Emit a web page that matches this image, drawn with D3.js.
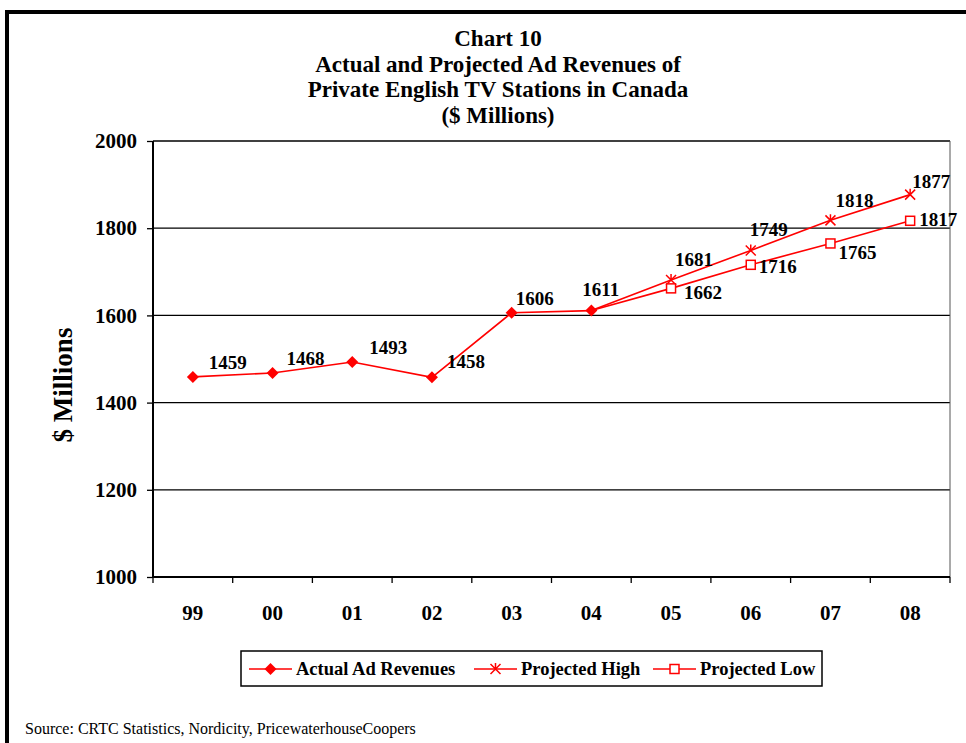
<!DOCTYPE html>
<html>
<head>
<meta charset="utf-8">
<script src="https://cdn.jsdelivr.net/npm/d3@7"></script>
<style>
  body { margin: 0; background: #fff; }
  text { font-family: "Liberation Serif", "Times New Roman", serif; }
</style>
</head>
<body>
<div id="chart"></div>
<script>
// data
var years = ["99", "00", "01", "02", "03", "04", "05", "06", "07", "08"];
var actual = [1459, 1468, 1493, 1458, 1606, 1611];
// projections start from the 2004 actual value
var highYears = ["04", "05", "06", "07", "08"];
var projHigh = [1611, 1681, 1749, 1818, 1877];
var projLow = [1611, 1662, 1716, 1765, 1817];
var yTicks = [1000, 1200, 1400, 1600, 1800, 2000];
var titleLines = ["Chart 10", "Actual and Projected Ad Revenues of", "Private English TV Stations in Canada", "($ Millions)"];

// where each value label sits relative to its point (text start, middle)
var actualLbl = [[16,-15],[14,-15],[17,-15],[15,-16],[4,-14],[-9,-21]];
var highLbl = [null,[4,-21],[-1,-21],[5,-20],[2,-13]];
var lowLbl = [null,[13,4],[8,2],[8,9],[9,-1]];

var W = 966, H = 743;
var margin = {top: 141, right: 16, bottom: 166, left: 153};
var width = W - margin.left - margin.right,
    height = H - margin.top - margin.bottom;

var svg = d3.select("#chart").append("svg")
  .attr("width", W)
  .attr("height", H);

// outer frame (top + left)
svg.append("rect").attr("x", 5).attr("y", 10).attr("width", W - 5).attr("height", 4).attr("fill", "#000");
svg.append("rect").attr("x", 5).attr("y", 10).attr("width", 4).attr("height", H - 10).attr("fill", "#000");

svg.append("g").selectAll("text")
  .data(titleLines)
  .enter().append("text")
  .attr("x", 498)
  .attr("y", function(d, i){ return 46 + i * 25.7; })
  .attr("text-anchor", "middle")
  .attr("font-size", "23px")
  .attr("font-weight", "bold")
  .text(function(d){ return d; });

var g = svg.append("g")
  .attr("transform", "translate(" + margin.left + "," + margin.top + ")");

var x = d3.scaleBand()
  .domain(years)
  .range([0, width]);

var y = d3.scaleLinear()
  .domain([1000, 2000])
  .range([height, 0]);

var cx = function(yr){ return x(yr) + x.bandwidth() / 2; };

// gridlines
g.selectAll(".grid")
  .data(yTicks.slice(1))
  .enter().append("line")
  .attr("class", "grid")
  .attr("x1", 0).attr("x2", width)
  .attr("y1", function(d){ return y(d); })
  .attr("y2", function(d){ return y(d); })
  .attr("stroke", "#000")
  .attr("stroke-width", 1.3);

// right edge of the plot
g.append("line")
  .attr("x1", width).attr("x2", width)
  .attr("y1", 0).attr("y2", height)
  .attr("stroke", "#555")
  .attr("stroke-width", 1);

// y axis
var yAxis = g.append("g")
  .call(d3.axisLeft(y).tickValues(yTicks).tickSize(6).tickPadding(10).tickFormat(d3.format("d")));
yAxis.select(".domain").attr("stroke-width", 2).attr("d", "M0," + height + "V0");
yAxis.selectAll(".tick line").attr("stroke-width", 1.3);
yAxis.selectAll("text")
  .attr("font-size", "21px")
  .attr("font-weight", "bold")
  .attr("font-family", "Liberation Serif")
  .attr("fill", "#000");

// x axis: ticks between categories
var xAxisG = g.append("g").attr("transform", "translate(0," + height + ")");
xAxisG.append("line")
  .attr("x1", 0).attr("x2", width)
  .attr("stroke", "#000").attr("stroke-width", 2);
xAxisG.selectAll(".xtick")
  .data(d3.range(years.length + 1))
  .enter().append("line")
  .attr("class", "xtick")
  .attr("x1", function(i){ return i * x.step(); })
  .attr("x2", function(i){ return i * x.step(); })
  .attr("y1", 0).attr("y2", 6)
  .attr("stroke", "#000").attr("stroke-width", 1.3);
xAxisG.selectAll(".xlab")
  .data(years)
  .enter().append("text")
  .attr("class", "xlab")
  .attr("x", function(d){ return cx(d); })
  .attr("y", 43)
  .attr("text-anchor", "middle")
  .attr("font-size", "21px")
  .attr("font-weight", "bold")
  .text(function(d){ return d; });

// y axis title
svg.append("text")
  .attr("transform", "translate(72,385) rotate(-90)")
  .attr("text-anchor", "middle")
  .attr("font-size", "27px")
  .attr("font-weight", "bold")
  .text("$ Millions");

var red = "#ff0000";
var line = d3.line()
  .x(function(d){ return cx(d[0]); })
  .y(function(d){ return y(d[1]); });

var actualPts = d3.zip(years.slice(0, actual.length), actual);
var highPts = d3.zip(highYears, projHigh);
var lowPts = d3.zip(highYears, projLow);

[highPts, lowPts, actualPts].forEach(function(pts){
  g.append("path")
    .datum(pts)
    .attr("d", line)
    .attr("fill", "none")
    .attr("stroke", red)
    .attr("stroke-width", 1.6);
});

function diamond(sel){
  sel.append("path").attr("d", "M0,-6L6,0L0,6L-6,0Z").attr("fill", red);
}
function star(sel){
  sel.append("path").attr("d", "M-5,-5L5,5M-5,5L5,-5M0,-6V0").attr("stroke", red).attr("stroke-width", 1.5).attr("fill", "none");
}
function square(sel){
  sel.append("rect").attr("x", -4.5).attr("y", -4.5).attr("width", 9).attr("height", 9)
    .attr("fill", "#fff").attr("stroke", red).attr("stroke-width", 1.5);
}

function markers(pts, shape, skipFirst){
  var data = skipFirst ? pts.slice(1) : pts;
  g.selectAll(null)
    .data(data)
    .enter().append("g")
    .attr("transform", function(d){ return "translate(" + cx(d[0]) + "," + y(d[1]) + ")"; })
    .call(shape);
}
markers(highPts, star, true);
markers(lowPts, square, true);
markers(actualPts, diamond, false);

function labels(pts, offs){
  g.selectAll(null)
    .data(pts.map(function(d, i){ return {p: d, o: offs[i]}; }).filter(function(d){ return d.o; }))
    .enter().append("text")
    .attr("x", function(d){ return cx(d.p[0]) + d.o[0]; })
    .attr("y", function(d){ return y(d.p[1]) + d.o[1]; })
    .attr("dy", "0.35em")
    .attr("font-size", "19px")
    .attr("font-weight", "bold")
    .text(function(d){ return d.p[1]; });
}
labels(actualPts, actualLbl);
labels(highPts, highLbl);
labels(lowPts, lowLbl);

// legend
var legend = svg.append("g").attr("transform", "translate(241,651)");
legend.append("rect")
  .attr("width", 581).attr("height", 35)
  .attr("fill", "#fff").attr("stroke", "#000").attr("stroke-width", 1.5);
var legendItems = [
  {name: "Actual Ad Revenues", shape: diamond, x: 8},
  {name: "Projected High", shape: star, x: 233},
  {name: "Projected Low", shape: square, x: 412}
];
legendItems.forEach(function(it){
  var li = legend.append("g").attr("transform", "translate(" + it.x + ",18)");
  li.append("line").attr("x1", 0).attr("x2", 43).attr("stroke", red).attr("stroke-width", 1.6);
  li.append("g").attr("transform", "translate(21.5,0)").call(it.shape);
  li.append("text")
    .attr("x", 47).attr("dy", "0.35em")
    .attr("font-size", "18.5px").attr("font-weight", "bold")
    .text(it.name);
});

svg.append("text")
  .attr("x", 25).attr("y", 734)
  .attr("font-size", "16px")
  .text("Source:  CRTC Statistics, Nordicity, PricewaterhouseCoopers");
</script>
</body>
</html>
